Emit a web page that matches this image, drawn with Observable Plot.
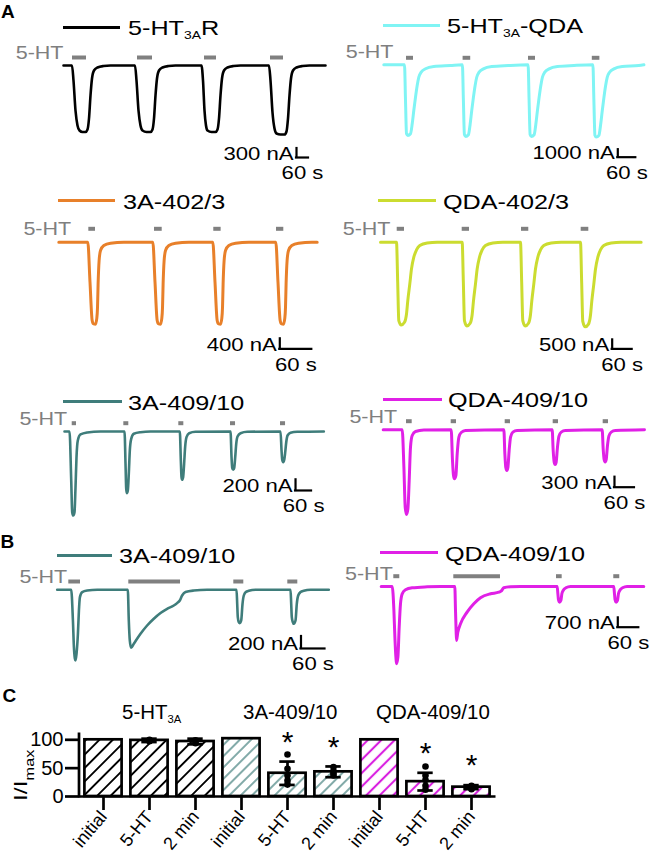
<!DOCTYPE html>
<html><head><meta charset="utf-8">
<script src="https://cdn.jsdelivr.net/npm/d3@7"></script>
<script src="https://cdn.jsdelivr.net/npm/@observablehq/plot@0.6"></script>
<style>
body{margin:0;background:#fff}
#fig{position:relative;width:650px;height:859px;overflow:hidden;background:#fff;font-family:"Liberation Sans",Arial,Helvetica,sans-serif;color:#000}
.t{position:absolute;white-space:nowrap;line-height:1;transform-origin:0 0}
.sub{font-size:0.55em;position:relative;top:0.33em}
</style></head><body><div id="fig"></div>
<script>
const FONT = '"Liberation Sans", Arial, Helvetica, sans-serif';

// ---------------- Panel A/B: series ----------------
const seriesNames  = ["5-HT_{3A}R","5-HT_{3A}-QDA","3A-402/3","QDA-402/3","3A-409/10","QDA-409/10","3A-409/10","QDA-409/10"];
const seriesColors = ["#000000","#80f4f4","#e8802a","#cbdc30","#3f7d7b","#e020e6","#3f7d7b","#e020e6"];
const scaleCurrents = [300, 1000, 400, 500, 200, 300, 200, 700]; // nA
const scaleTime = 60; // s
const drugLabel = "5-HT";

// traces: [time (s), current (nA)]
const traceA1 = [[0,0],
 [42.5,0],[50,-500],[60,-1500],[70,-2000],[80,-2167],[95,-2217],[110,-2217],[120,-2133],[127.5,-1767],[135,-1000],[142.5,-433],[152.5,-167],[170,-67],[200,-17],[235,0],
 [357.5,0],[365,-500],[375,-1500],[385,-2000],[395,-2167],[415,-2217],[435,-2217],[445,-2133],[452.5,-1767],[460,-1000],[467.5,-433],[477.5,-167],[495,-67],[525,-17],[560,0],
 [690,0],[697.5,-500],[705,-1500],[712.5,-2000],[720,-2167],[740,-2217],[760,-2217],[770,-2133],[777.5,-1767],[785,-1000],[792.5,-433],[802.5,-167],[820,-67],[850,-17],[885,0],
 [1027.5,0],[1035,-500],[1045,-1567],[1055,-2100],[1065,-2267],[1085,-2300],[1105,-2300],[1115,-2200],[1122.5,-1767],[1130,-1000],[1137.5,-433],[1147.5,-167],[1165,-67],[1195,-17],[1230,0],
 [1310,0]];
const traceA2 = [[0,0],
 [69,0],[72.3,-4667],[75.7,-9200],[80,-9427],[89,-9200],[94.7,-7867],[100,-6093],[105.7,-4307],[111.3,-2760],[116.7,-1640],[124.7,-973],[139,-533],[166.7,-227],[222,-93],
 [262,0],[265.3,-4700],[268.7,-9300],[273,-9560],[282,-9330],[287.7,-7950],[293,-6150],[298.7,-4350],[304.3,-2790],[309.7,-1660],[317.7,-980],[332,-540],[359.7,-230],[415,-93],
 [481,0],[484.3,-4700],[487.7,-9300],[492,-9560],[501,-9330],[506.7,-7950],[512,-6150],[517.7,-4350],[523.3,-2790],[528.7,-1660],[536.7,-980],[551,-540],[578.7,-230],[634,-93],
 [697,0],[700.3,-4750],[703.7,-9400],[708,-9640],[717,-9400],[722.7,-8000],[728,-6200],[733.7,-4380],[739.3,-2800],[744.7,-1670],[752.7,-990],[767,-540],[794.7,-230],[850,-93],
 [867,0]];
const traceA3 = [[0,0],
 [54.4,0],[58.5,-1600],[62.5,-3120],[65.1,-3268],[68.8,-3280],[71.3,-3040],[72.6,-2600],[73.7,-1668],[75.6,-732],[78.2,-332],[84.4,-132],[97,-40],[121.9,0],
 [176.3,0],[180.4,-1600],[184.4,-3120],[187,-3268],[190.7,-3280],[193.2,-3040],[194.5,-2600],[195.6,-1668],[197.5,-732],[200.1,-332],[206.3,-132],[218.9,-40],[243.8,0],
 [288.8,0],[292.9,-1600],[296.9,-3120],[299.5,-3268],[303.2,-3280],[305.7,-3040],[307,-2600],[308.1,-1668],[310,-732],[312.6,-332],[318.8,-132],[331.4,-40],[356.3,0],
 [406.9,0],[411,-1600],[415,-3120],[417.6,-3268],[421.3,-3280],[423.8,-3040],[425.1,-2600],[426.2,-1668],[428.1,-732],[430.7,-332],[436.9,-132],[449.5,-40],[474.4,0],
 [484.5,0]];
const traceA4 = [[0,0],
 [48,0],[51.6,-2224],[54.9,-4353],[62.1,-4598],[72,-4448],[78,-3987],[81.9,-3241],[87.9,-2318],[93,-1484],[99.9,-834],[108,-428],[117.9,-183],[140.1,-39],[170.1,0],
 [245,0],[248.6,-2224],[251.9,-4353],[259.1,-4650],[269,-4500],[275,-4030],[278.9,-3270],[284.9,-2330],[290,-1490],[296.9,-840],[305,-430],[314.9,-183],[337.1,-39],[367.1,0],
 [420,0],[423.6,-2224],[426.9,-4353],[434.1,-4650],[444,-4500],[450,-4030],[453.9,-3270],[459.9,-2330],[465,-1490],[471.9,-840],[480,-430],[489.9,-183],[512.1,-39],[542.1,0],
 [600,0],[603.6,-2250],[606.9,-4400],[614.1,-4700],[624,-4550],[630,-4060],[633.9,-3290],[639.9,-2340],[645,-1500],[651.9,-845],[660,-430],[669.9,-183],[692.1,-39],[722.1,0],
 [782,0]];
const traceA5 = [[0,0],
 [18.8,0],[25.2,-919],[28.9,-1513],[32.7,-1575],[37.5,-1513],[41.3,-1044],[45,-482],[49.9,-169],[60,-56],[85.2,-19],[135,0],
 [225,0],[228.8,-606],[231.4,-1074],[233.6,-1157],[237.4,-1106],[241.1,-793],[244.9,-356],[250.1,-137],[259.9,-43],[285,-13],[322.5,0],
 [432.4,0],[436.2,-544],[438.8,-857],[441,-906],[444.8,-857],[448.5,-606],[452.3,-294],[457.5,-107],[467.3,-32],[491.3,-6],
 [622.5,0],[626.3,-482],[628.9,-681],[632.6,-718],[636.4,-681],[640.1,-482],[643.9,-231],[648.8,-94],[660,-32],[685.1,-6],
 [810,0],[813.8,-356],[816.4,-531],[820.1,-576],[823.9,-531],[827.6,-388],[831.4,-201],[836.3,-75],[847.5,-24],[872.6,-6],
 [972.4,0]];
const traceA6 = [[0,0],
 [57,0],[62.1,-1119],[66,-2319],[69.9,-2541],[74.1,-2370],[78,-1521],[81.9,-519],[87,-171],[96.9,-51],[122.1,-9],
 [204,0],[207.9,-921],[210.9,-1371],[213.9,-1470],[218.1,-1371],[222,-720],[227.1,-219],[234,-81],[246.9,-21],
 [362,0],[365,-720],[368,-1140],[371,-1221],[374,-1140],[377.9,-621],[382.1,-219],[389,-69],[401.9,-21],
 [507,0],[510,-621],[513,-969],[516,-1041],[519,-969],[522.9,-519],[527.1,-201],[534,-69],[546.9,-21],
 [657,0],[660,-570],[663,-900],[666,-969],[669,-900],[672.9,-471],[677.1,-189],[684,-69],[696.9,-21],
 [783.9,0]];
const traceB1 = [[0,0],
 [35,0],[39.3,-512],[41.8,-955],[44.3,-1150],[45.8,-1179],[48.3,-1067],[51.8,-733],[54.3,-345],[56.8,-122],[62.5,-38],[75,-12],[100,0],
 [176.5,0],[179,-512],[181.5,-845],[184.8,-967],[191.5,-900],[208.3,-733],[224.8,-595],[241.5,-483],[258.3,-388],[274.8,-317],[291.5,-262],[299.8,-222],[306.5,-178],[312.3,-95],[320.8,-38],[341.5,-12],[374.8,0],
 [448.3,0],[450,-233],[451.5,-455],[454,-538],[456.5,-555],[460,-512],[463.3,-233],[466.5,-95],[471.5,-38],[479,-17],[495.8,0],
 [583.3,0],[585,-233],[586.5,-455],[589,-538],[591.5,-567],[595.8,-512],[599,-233],[602.5,-95],[608.3,-38],[616.5,-17],[633.3,0],
 [679,0]];
const traceB2 = [[0,0],
 [31.4,0],[36.3,-1800],[39.1,-3803],[42,-5303],[43.7,-5798],[47.7,-5303],[51.4,-3053],[55.1,-1298],[60,-548],[69.4,-248],[88.5,-98],[131.4,-23],[169.4,0],
 [210.3,0],[212.3,-1800],[214,-3300],[215.2,-4050],[218.9,-3428],[226.6,-2798],[245.4,-1928],[264.6,-1298],[283.7,-848],[312.3,-548],[336,-428],[342.6,-353],[350.3,-98],[369.4,-23],[398,0],
 [502.8,0],[504.8,-548],[506.5,-998],[509.4,-1178],[513.4,-1050],[516.2,-548],[519.9,-300],[527.7,-98],[540.8,0],
 [664.5,0],[666.5,-548],[668.2,-998],[671.1,-1178],[675.1,-1050],[677.9,-548],[681.6,-300],[689.4,-98],[702.5,0],
 [750.2,0]];

// 5-HT applications: [start s, end s]
const appsA1 = [[45,115],[370,445],[705,765],[1035,1100]];
const appsA2 = [[75.7,99],[264.3,289.7],[482.3,505.7],[695,720.3]];
const appsA3 = [[56.3,68.8],[179.4,193.9],[290.6,304.4],[408.2,421.9]];
const appsA4 = [[50.1,72],[245.1,267],[423,444.9],[602.1,625]];
const appsA5 = [[28.9,45],[222.4,241.1],[428.6,447.4],[622.5,641.3],[810,828.8]];
const appsA6 = [[69.9,87],[204,219.9],[366,381.9],[510,525.9],[660,675.9]];
const appsB1 = [[29,58.3],[179,308.3],[441.5,466.5],[576.5,601.5]];
const appsB2 = [[36,53.1],[207.4,340.8],[500.8,517.1],[664.5,681.6]];

const traces = [traceA1,traceA2,traceA3,traceA4,traceA5,traceA6,traceB1,traceB2];
const apps = [appsA1,appsA2,appsA3,appsA4,appsA5,appsA6,appsB1,appsB2];

// ---------------- Panel C ----------------
const groupTitles = ["5-HT_{3A}","3A-409/10","QDA-409/10"];
const condLabels = ["initial","5-HT","2 min","initial","5-HT","2 min","initial","5-HT","2 min"];
const barGroup = [0,0,0,1,1,1,2,2,2];
const barMeans = [100, 99, 97, 102, 41, 43.5, 100, 26.2, 16.5];
const barSems  = [0, 3, 5, 0, 20.6, 9.5, 0, 15.6, 3.5];
const barDots  = [[], [100,98.5,97.5], [99,96,94], [], [74,49,37,28,21], [52,45,41,37], [], [53,37,29,19,12], [19,16,14,13]];
const sigBars  = [4,5,7,8];
const groupHatch = ["#000000","#3f7d7b","#d81fe0"];

// ---------------- layout (page pixels) ----------------
const layout = [
 {box:[0,40,330,145],   x0:63,    pxPerS:0.2,    yb:65,    pxPerNA:0.03,    sw:2.6, barDy:8,    labelDx:-9,    sb:[1165,-3067],  lg:{x1:63,x2:120,y:27,lx:128}},
 {box:[330,40,320,145], x0:383.3, pxPerS:0.3,    yb:64.3,  pxPerNA:0.0075,  sw:3,   barDy:7,    labelDx:-13,   sb:[780,-12317],  lg:{x1:383,x2:440,y:25,lx:446.7}},
 {box:[0,215,330,160],  x0:58.3,  pxPerS:0.5333, yb:241.7, pxPerNA:0.025,   sw:3,   barDy:13.4, labelDx:-17.6, sb:[414.4,-4264], lg:{x1:58.3,x2:115,y:200.7,lx:123.3}},
 {box:[330,215,320,160],x0:380,   pxPerS:0.3333, yb:241.7, pxPerNA:0.018,   sw:3,   barDy:13.4, labelDx:-6.7,  sb:[695.1,-5927], lg:{x1:378.3,x2:436,y:200.7,lx:442.7}},
 {box:[0,405,330,115],  x0:64,    pxPerS:0.2667, yb:431,   pxPerNA:0.05333, sw:2.6, barDy:8.3,  labelDx:-5,    sb:[866.25,-1106],lg:{x1:63.3,x2:121.7,y:401.7,lx:128.3}},
 {box:[330,405,320,115],x0:382.7, pxPerS:0.3333, yb:429.3, pxPerNA:0.03333, sw:3,   barDy:8.6,  labelDx:-9.3,  sb:[693.9,-1722], lg:{x1:383.3,x2:441.7,y:399,lx:448.3}},
 {box:[0,565,330,105],  x0:56.7,  pxPerS:0.4,    yb:589.3, pxPerNA:0.06,    sw:2.6, barDy:8.3,  labelDx:-1.6,  sb:[609.5,-978],  lg:{x1:56.7,x2:111.7,y:555,lx:119.3}},
 {box:[330,560,320,110],x0:380.7, pxPerS:0.35,   yb:586,   pxPerNA:0.01333, sw:3,   barDy:10.3, labelDx:-1,    sb:[676,-3053],   lg:{x1:380,x2:438.3,y:552.7,lx:445}},
];

const fig = document.getElementById("fig");
const fmt = s => s.replace(/_\{(.+?)\}/g, '<span class="sub">$1</span>');

function addText(html, left, baseline, size, o = {}) {
  const d = document.createElement("div");
  d.className = "t";
  d.innerHTML = html;
  d.style.fontSize = size + "px";
  d.style.left = left + "px";
  d.style.top = (baseline - 0.8465 * size) + "px";
  if (o.bold) d.style.fontWeight = "bold";
  if (o.sx) d.style.transform = `scaleX(${o.sx})`;
  if (o.color) d.style.color = o.color;
  fig.appendChild(d);
  return d;
}
function placeSvg(svg, left, top) {
  svg.style.position = "absolute";
  svg.style.left = left + "px";
  svg.style.top = top + "px";
  svg.style.overflow = "visible";
  svg.style.background = "transparent";
  fig.appendChild(svg);
}
function stretchText(svg, s) {
  svg.querySelectorAll("text").forEach(t => {
    const tr = t.getAttribute("transform");
    if (tr) t.setAttribute("transform", tr + ` scale(${s},1)`);
    else {
      const x = +t.getAttribute("x") || 0, y = t.getAttribute("y");
      t.removeAttribute("x");
      t.setAttribute("transform", `translate(${x},0) scale(${s},1)`);
      if (y != null) t.setAttribute("y", y);
    }
  });
}

// ---------------- draw trace panels ----------------
layout.forEach((p, k) => {
  const [L, Tp, W, H] = p.box;
  const trace = traces[k];
  const T = d3.max(trace, d => d[0]);
  const xr0 = p.x0 - L, yb = p.yb - Tp;
  const sb = {t: p.sb[0], i: p.sb[1], di: scaleCurrents[k], dt: scaleTime};
  const svg = Plot.plot({
    width: W, height: H, margin: 0,
    x: {domain: [0, T], range: [xr0, xr0 + T * p.pxPerS], axis: null},
    y: {domain: [0, -1000], range: [yb, yb + 1000 * p.pxPerNA], axis: null},
    style: {fontFamily: FONT, background: "transparent", overflow: "visible"},
    marks: [
      Plot.ruleY(apps[k], {x1: d => d[0], x2: d => d[1], y: () => 0, dy: -p.barDy, stroke: "#808080", strokeWidth: 4}),
      Plot.text([apps[k][0]], {x: d => d[0], y: () => 0, text: () => drugLabel, textAnchor: "end", lineAnchor: "middle", dx: p.labelDx, dy: -12.5, fill: "#7f7f7f", fontSize: 17.5}),
      Plot.line(trace, {x: d => d[0], y: d => d[1], stroke: seriesColors[k], strokeWidth: p.sw, curve: "monotone-x", strokeLinejoin: "round"}),
      Plot.ruleX([sb], {x: d => d.t, y1: d => d.i, y2: d => d.i + d.di, stroke: "#000", strokeWidth: 2.2, strokeLinecap: "square"}),
      Plot.ruleY([sb], {y: d => d.i, x1: d => d.t, x2: d => d.t + d.dt, stroke: "#000", strokeWidth: 2.2, strokeLinecap: "square"}),
      Plot.text([sb], {x: d => d.t, y: d => d.i, text: d => `${d.di} nA`, textAnchor: "end", lineAnchor: "bottom", dx: -3, dy: 2, fontSize: 18, fill: "#000"}),
      Plot.text([sb], {x: d => d.t + d.dt / 2, y: d => d.i, text: d => `${d.dt} s`, textAnchor: "middle", lineAnchor: "top", dy: 9, fontSize: 18, fill: "#000"})
    ]
  });
  stretchText(svg, 1.23);
  placeSvg(svg, L, Tp);
  // legend
  const lg = p.lg;
  const line = document.createElement("div");
  Object.assign(line.style, {position: "absolute", left: lg.x1 + "px", top: (lg.y - 1.5) + "px", width: (lg.x2 - lg.x1) + "px", height: "3px", background: seriesColors[k]});
  fig.appendChild(line);
  addText(fmt(seriesNames[k]), lg.lx, lg.y + 7.6, 21, {sx: 1.2});
});

// panel letters
addText("A", 1, 18.3, 19, {bold: true});
addText("B", 0.5, 548.3, 19, {bold: true});
addText("C", 2.5, 702, 19, {bold: true});

// ---------------- panel C ----------------
const rows = barMeans.map((m, k) => ({k, mean: m, sem: barSems[k], g: barGroup[k]}));
const errRows = rows.filter(d => d.sem > 0);
const dotRows = barDots.flatMap((vs, k) => vs.map(v => ({k, v})));
const starRows = rows.filter(d => sigBars.includes(d.k));

function yAxisLine(index, scales, values, dims) {
  const l = document.createElementNS("http://www.w3.org/2000/svg", "line");
  const x = dims.marginLeft;
  l.setAttribute("x1", x); l.setAttribute("x2", x);
  l.setAttribute("y1", scales.y(112)); l.setAttribute("y2", scales.y(0) + 1.35);
  l.setAttribute("stroke", "#000"); l.setAttribute("stroke-width", 2.7);
  return l;
}

const chartC = Plot.plot({
  width: 520, height: 134, marginLeft: 79, marginRight: 24.5, marginTop: 7.5, marginBottom: 63,
  x: {domain: d3.range(condLabels.length), padding: 0},
  y: {domain: [0, 112]},
  style: {fontFamily: FONT, background: "transparent", overflow: "visible", color: "#000"},
  marks: [
    ...[0,1,2].map(g => Plot.barY(rows.filter(d => d.g === g), {x: "k", y: "mean", fill: `url(#hatch-${g})`, stroke: "#000", strokeWidth: 2.7, insetLeft: 4.4, insetRight: 4.4})),
    Plot.ruleX(errRows, {x: "k", y1: d => d.mean - d.sem, y2: d => d.mean + d.sem, stroke: "#000", strokeWidth: 2.7}),
    Plot.tickY(errRows, {x: "k", y: d => d.mean + d.sem, stroke: "#000", strokeWidth: 2.7, inset: 15.3}),
    Plot.tickY(errRows, {x: "k", y: d => d.mean - d.sem, stroke: "#000", strokeWidth: 2.7, inset: 15.3}),
    Plot.dot(dotRows, {x: "k", y: "v", r: 3.3, fill: "#000", stroke: "none"}),
    Plot.text(starRows, {x: "k", y: d => d.mean + d.sem, text: () => "*", lineAnchor: "top", dy: -31, fontSize: 30, fill: "#000"}),
    Plot.ruleY([0], {stroke: "#000", strokeWidth: 2.7}),
    yAxisLine,
    Plot.axisY({ticks: [0, 50, 100], tickSize: 14, tickPadding: 2, fontSize: 20, strokeWidth: 2.7, label: null}),
    Plot.axisX({tickRotate: -50, tickSize: 14, tickPadding: 3, tickFormat: i => condLabels[i], fontSize: 18, strokeWidth: 2.7, label: null})
  ]
});
// hatch patterns
const defs = d3.select(chartC).insert("defs", ":first-child");
const hatchSpacing = [9.5, 8, 9.5], hatchWidth = [1.9, 1.3, 2.1];
groupHatch.forEach((c, g) => {
  const s = hatchSpacing[g];
  const pat = defs.append("pattern").attr("id", `hatch-${g}`).attr("patternUnits", "userSpaceOnUse")
    .attr("width", s).attr("height", s).attr("patternTransform", "rotate(45)");
  pat.append("rect").attr("width", s).attr("height", s).attr("fill", "#fff");
  pat.append("line").attr("x1", s / 2).attr("x2", s / 2).attr("y1", 0).attr("y2", s)
    .attr("stroke", c).attr("stroke-width", hatchWidth[g]);
});
placeSvg(chartC, 0, 725);

// group titles
const titleX = [121.7, 242.7, 376];
groupTitles.forEach((t, g) => addText(fmt(t), titleX[g], 720, 19.5, {sx: 1.05}));

// y label
const yl = document.createElement("div");
yl.className = "t";
yl.innerHTML = 'I/I<span style="font-size:12.5px;position:relative;top:6.6px">max</span>';
Object.assign(yl.style, {fontSize: "19px", left: "10.6px", top: "801px", transform: "rotate(-90deg) scaleX(1.3)"});
fig.appendChild(yl);
</script></body></html>
